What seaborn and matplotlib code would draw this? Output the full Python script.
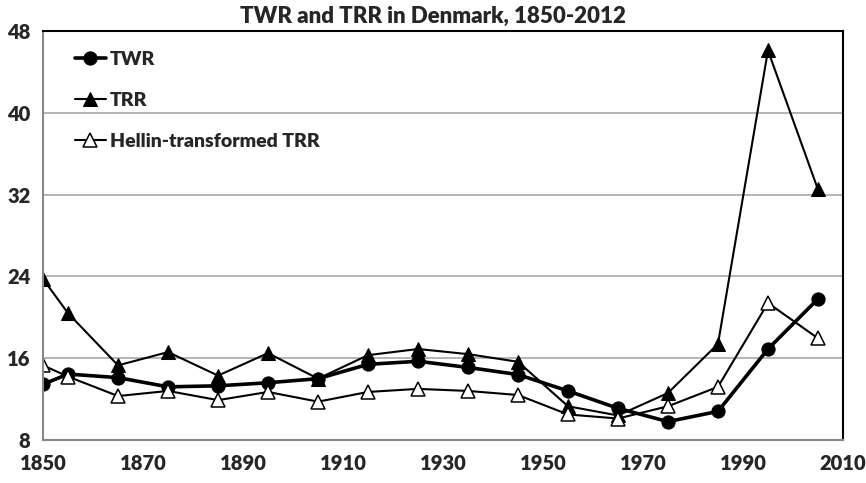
import matplotlib
matplotlib.use("Agg")
import matplotlib.pyplot as plt
import seaborn as sns

years = [1850, 1855, 1865, 1875, 1885, 1895, 1905, 1915, 1925, 1935, 1945, 1955, 1965, 1975, 1985, 1995, 2005]
twr = [13.45, 14.45, 14.1, 13.2, 13.3, 13.6, 14.0, 15.4, 15.7, 15.1, 14.4, 12.8, 11.1, 9.8, 10.8, 16.9, 21.8]
trr = [23.75, 20.4, 15.3, 16.6, 14.3, 16.5, 14.0, 16.3, 16.9, 16.4, 15.65, 11.3, 10.4, 12.6, 17.4, 46.1, 32.5]
hellin = [15.3, 14.2, 12.3, 12.8, 11.9, 12.7, 11.75, 12.7, 13.0, 12.8, 12.4, 10.5, 10.1, 11.3, 13.2, 21.4, 17.95]

sns.set_style("white")
plt.rcParams['font.family'] = ['Lato', 'DejaVu Sans']

fig = plt.figure(figsize=(8.66, 4.83), dpi=100)
ax = fig.add_axes([0.0497, 0.089, 0.9237, 0.8468])

ax.grid(visible=True, axis="y", color="#a0a0a0", linewidth=1.1)
ax.set_axisbelow(True)

sns.lineplot(x=years, y=twr, ax=ax, color="black", linewidth=2.6, marker="o",
             markersize=9.5, markeredgecolor="black", label="TWR")
sns.lineplot(x=years, y=trr, ax=ax, color="black", linewidth=1.5, marker="^",
             markersize=9.5, markeredgecolor="black", label="TRR")
sns.lineplot(x=years, y=hellin, ax=ax, color="black", linewidth=1.5, marker="^",
             markersize=9.5, markerfacecolor="white", markeredgecolor="black",
             markeredgewidth=1.1, label="Hellin-transformed TRR")

ax.set_xlim(1850, 2010)
ax.set_ylim(8, 48)
ax.set_xticks(range(1850, 2011, 20))
ax.set_yticks(range(8, 49, 8))
ax.tick_params(axis="both", labelsize=14.5, direction="out", length=5, color="#888888")
for lbl in ax.get_xticklabels() + ax.get_yticklabels():
    lbl.set_fontweight("heavy")
ax.tick_params(axis="x", pad=5)
ax.tick_params(axis="y", pad=4)

for side in ["left", "bottom"]:
    ax.spines[side].set_color("#888888")
    ax.spines[side].set_linewidth(1.5)
for side in ["top", "right"]:
    ax.spines[side].set_color("black")
    ax.spines[side].set_linewidth(1.5)

fig.text(0.5, 0.945, "TWR and TRR in Denmark, 1850-2012", fontsize=16, fontweight="heavy",
         ha="center", va="bottom")

leg = ax.legend(loc="upper left", frameon=False, fontsize=14, labelspacing=1.25,
                handlelength=1.6, handletextpad=0.2, borderaxespad=0.4,
                bbox_to_anchor=(0.02, 0.99))
for t in leg.get_texts():
    t.set_fontweight("heavy")

fig.savefig("out.png", dpi=100)
